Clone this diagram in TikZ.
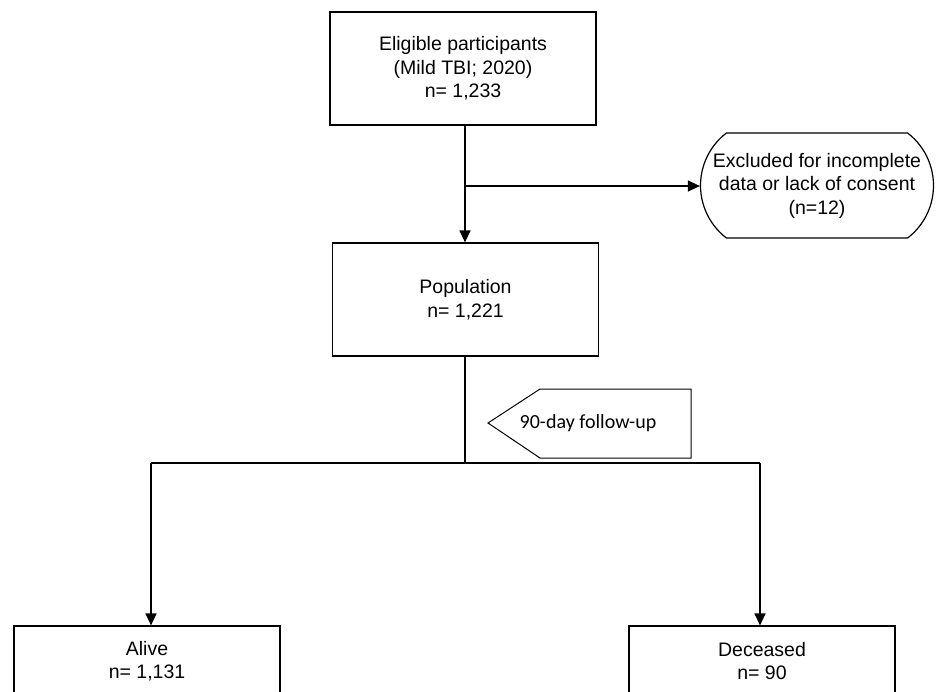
\documentclass[tikz,border=0pt]{standalone}
\usepackage{fontspec}
\setmainfont{Liberation Sans}
\newfontfamily\calib{Carlito}
\usetikzlibrary{arrows.meta,shapes.misc}

\begin{document}
\begin{tikzpicture}[x=1pt,y=-1pt,line width=1.2pt,
  box/.style={draw,align=center,minimum width=266pt,font=\fontsize{19.5}{23.5}\selectfont},
  arr/.style={-{Triangle[length=12pt,width=11pt]}}]
\useasboundingbox (0,0) rectangle (947,691);
\node[box,minimum height=113pt] (elig) at (463,68.5) {Eligible participants\\ (Mild TBI; 2020)\\ n= 1,233};
\node[box,minimum height=113pt] (pop) at (465.5,299.5) {Population\\ n= 1,221};
\node[box,rounded rectangle,rounded rectangle arc length=105,minimum width=237pt,minimum height=105pt,inner xsep=2pt] (excl) at (817,185.5) {Excluded for incomplete\\ data or lack of consent\\ (n=12)};
\node[box,minimum height=70pt] (alive) at (147,661) {Alive\\ n= 1,131};
\node[box,minimum height=70pt] (dead) at (762,661) {Deceased\\ n= 90};
% follow-up tag
\draw[line width=1pt] (488,423) -- (540,389) -- (691,389) -- (691,458) -- (540,458) -- cycle;
\node[font=\calib\fontsize{20}{24}\selectfont] (fu) at (588,423) {90-day follow-up};
% connectors
\coordinate (split) at (465,186);
\draw (elig.south -| split) -- (split);
\draw[arr] (split) -- (pop.north -| split);
\draw[arr] (split) -- (split -| excl.west);
\coordinate (fork) at (465,463);
\coordinate (lft) at (151,463);
\coordinate (rgt) at (760,463);
\draw (pop.south -| fork) -- (fork);
\draw (lft) -- (rgt);
\draw[arr] (lft) -- (alive.north -| lft);
\draw[arr] (rgt) -- (dead.north -| rgt);
\end{tikzpicture}
\end{document}
